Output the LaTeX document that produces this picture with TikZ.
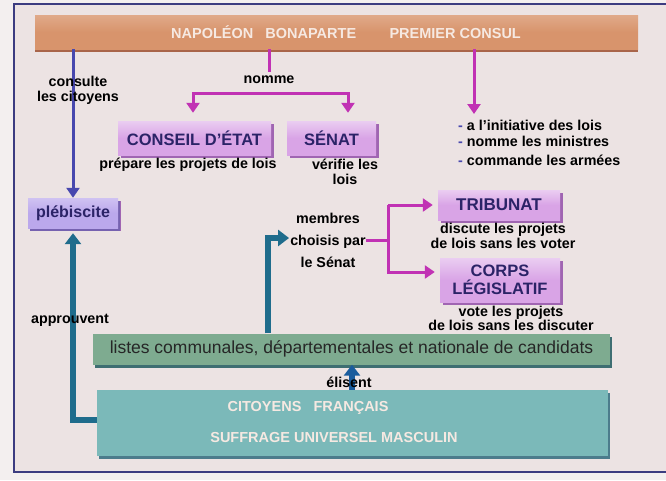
\documentclass[tikz,border=0pt]{standalone}
\usepackage{fontspec}
\setmainfont{Liberation Sans}
\usetikzlibrary{arrows.meta, positioning, shadows}

\definecolor{paper}{HTML}{F3EFEF}
\definecolor{inside}{HTML}{ECE3E3}
\definecolor{framecol}{HTML}{3C3C80}
\definecolor{barfill}{HTML}{D8946C}
\definecolor{barshade}{HTML}{A9654A}
\definecolor{bartext}{HTML}{F6E9E2}
\definecolor{boxpurple}{HTML}{D9A4E6}
\definecolor{purpleshade}{HTML}{A065B2}
\definecolor{plebfill}{HTML}{BBA8EC}
\definecolor{plebshade}{HTML}{7662B0}
\definecolor{navytext}{HTML}{2B2367}
\definecolor{listfill}{HTML}{7EAB90}
\definecolor{listshade}{HTML}{3E6E72}
\definecolor{citfill}{HTML}{7BB9B9}
\definecolor{citshade}{HTML}{4C7C8C}
\definecolor{magline}{HTML}{C132B4}
\definecolor{blueline}{HTML}{4848AE}
\definecolor{tealline}{HTML}{1F6C8C}

\begin{document}
\begin{tikzpicture}[x=1pt, y=-1pt,
  lbl/.style={font=\bfseries\fontsize{14.3}{15}\selectfont, align=center, inner sep=0pt},
  pbox/.style={top color=boxpurple!55!white, bottom color=boxpurple, middle color=boxpurple,
    text=navytext, align=center, inner sep=0pt,
    font=\bfseries\fontsize{16.5}{17.5}\selectfont,
    drop shadow={shadow xshift=2.5pt, shadow yshift=-2.5pt, fill=purpleshade, opacity=1}},
  magline/.style={draw=magline, line width=3pt},
  magarrow/.style={magline, -{Triangle[width=13pt,length=10pt]}},
  tealarrow/.style={draw=tealline, line width=6pt, -{Triangle[width=16pt,length=11pt]}}
]
\useasboundingbox (0,0) rectangle (666,480);
\fill[paper] (0,0) rectangle (666,480);
\filldraw[fill=inside, draw=framecol, line width=1.5pt] (14,4) rectangle (672,472);

% top bar
\node[top color=barfill!80!white, bottom color=barfill, middle color=barfill,
  minimum width=603pt, minimum height=34pt, inner sep=0pt,
  drop shadow={shadow xshift=0pt, shadow yshift=-3pt, fill=barshade, opacity=1}]
  (napoleon) at (336.5,32) {};
\node[font=\bfseries\fontsize{14.5}{15}\selectfont, text=bartext] (titre) at (346,32)
  {NAPOLÉON\ \ \ BONAPARTE\hspace{2.3em}PREMIER CONSUL};

% boxes
\node[pbox, minimum width=153pt, minimum height=34pt] (conseil) at (194.5,138) {CONSEIL D’ÉTAT};
\node[pbox, minimum width=89pt, minimum height=34pt] (senat) at (331.5,138) {SÉNAT};
\node[pbox, top color=plebfill!70!white, bottom color=plebfill, middle color=plebfill,
  font=\bfseries\fontsize{16}{17}\selectfont,
  minimum width=90pt, minimum height=30pt,
  drop shadow={shadow xshift=2pt, shadow yshift=-2.5pt, fill=plebshade, opacity=1}]
  (pleb) at (73,213) {plébiscite};
\node[pbox, font=\bfseries\fontsize{17}{18}\selectfont, minimum width=122pt, minimum height=30pt] (tribunat) at (499,205) {TRIBUNAT};
\node[pbox, minimum width=120pt, minimum height=44pt] (corps) at (500,280) {CORPS\\LÉGISLATIF};
\node[fill=listfill, text=black!85, minimum width=517pt, minimum height=31pt, inner sep=0pt,
  font=\fontsize{17.5}{18}\selectfont,
  drop shadow={shadow xshift=2pt, shadow yshift=-3pt, fill=listshade, opacity=1}]
  (listes) at (351.5,349) {listes communales, départementales et nationale de candidats};
\node[fill=citfill, minimum width=511pt, minimum height=66pt, inner sep=0pt,
  drop shadow={shadow xshift=2pt, shadow yshift=-3pt, fill=citshade, opacity=1}]
  (citoyens) at (352.5,423) {};
\node[font=\bfseries\fontsize{14.5}{15}\selectfont, text=bartext] (cit1) at (308,408) {CITOYENS\ \ \ FRANÇAIS};
\node[font=\bfseries\fontsize{14.5}{15}\selectfont, text=bartext] (cit2) at (334,437) {SUFFRAGE UNIVERSEL MASCULIN};

% labels
\node[lbl] (prepare) at (188,165) {prépare les projets de lois};
\node[lbl] (verifie) at (345,172) {vérifie les\\lois};
\node[lbl, font=\bfseries\fontsize{14.3}{22}\selectfont] (choix) at (328,240) {membres\\choisis par\\le Sénat};
\node[lbl, font=\bfseries\fontsize{14.3}{13}\selectfont] (discute) at (503,236) {discute les projets\\de lois sans les voter};
\node[lbl, font=\bfseries\fontsize{14.3}{14}\selectfont] (vote) at (511,318) {vote les projets\\de lois sans les discuter};
\node[lbl, anchor=west] (p1) at (458,125) {\textcolor{blueline}{-}\ a l’initiative des lois};
\node[lbl, anchor=west] (p2) at (458,141) {\textcolor{blueline}{-}\ nomme les ministres};
\node[lbl, anchor=west] (p3) at (458,160) {\textcolor{blueline}{-}\ commande les armées};

% Napoléon's arrows
\draw[draw=blueline, line width=3pt, -{Triangle[width=13pt,length=10pt]}]
  (napoleon.south -| pleb) -- (pleb.north);
\node[lbl] (consulte) at (78,90) {consulte\\les citoyens};
\coordinate (nl) at (193,93);
\coordinate (nr) at (348,93);
\draw[magline] (napoleon.south -| 269,0) -- (269,72);
\node[lbl] (nomme) at (269,80) {nomme};
\draw[magline, line cap=rect] (nl) -- (nr);
\draw[magarrow, shorten >=8pt] (nl) -- (nl |- conseil.north);
\draw[magarrow, shorten >=8pt] (nr) -- (nr |- senat.north);
\draw[magarrow] (napoleon.south -| 474,0) -- (474,114);

% Sénat's choice
\coordinate (split) at (388,240);
\draw[magline] (choix.east) -- (split);
\draw[magarrow, shorten >=5pt] (split |- 0,205) |- (tribunat.west);
\draw[magarrow, shorten >=5pt] (split) |- (corps.west |- 0,272);
\draw[magline] (split |- 0,205) -- (split);

% citizens
\draw[tealarrow, shorten >=5pt] (citoyens.west |- 0,420) -| (pleb.south);
\node[lbl] (approuvent) at (70,320) {approuvent};
\draw[tealarrow, shorten >=1pt] (listes.north -| 268,0) |- (choix.west |- 0,238);
\draw[tealarrow, draw=tealline!85!blue] (citoyens.north -| 352,0) -- (listes.south -| 352,0);
\node[lbl] (elisent) at (349,382) {élisent};
\end{tikzpicture}
\end{document}
